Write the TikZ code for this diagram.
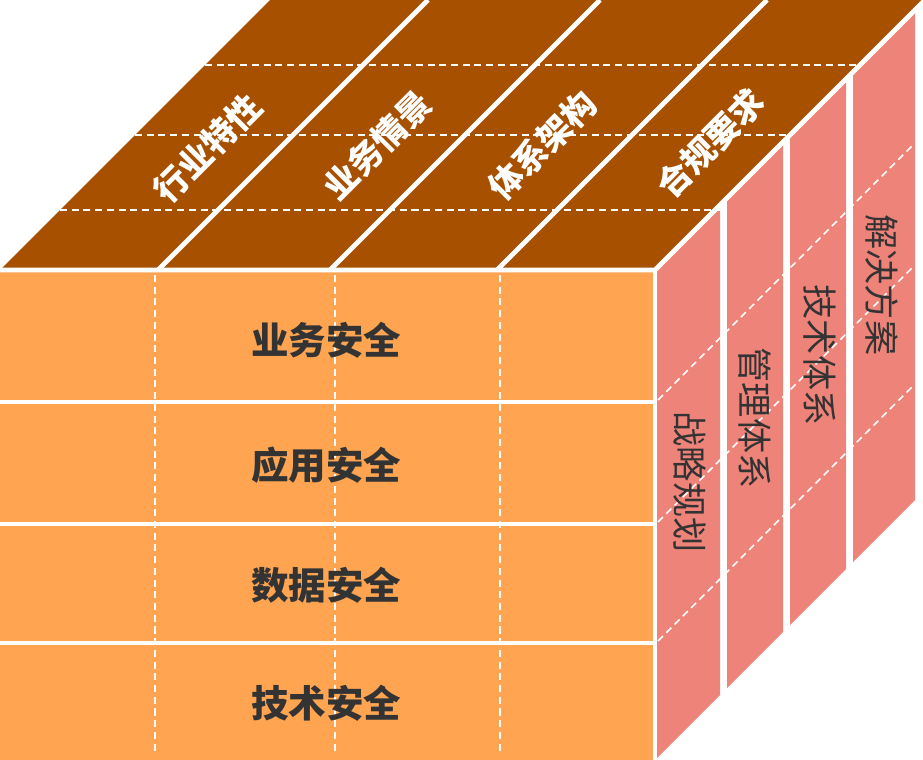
\documentclass[tikz,border=0pt]{standalone}
\usepackage{fontspec}
\newfontfamily\cjk{Noto Sans CJK SC}
\definecolor{topc}{HTML}{A65000}
\definecolor{frontc}{HTML}{FFA552}
\definecolor{sidec}{HTML}{EE837A}
\definecolor{txt}{HTML}{333333}
\begin{document}
\begin{tikzpicture}[x=0.03cm,y=-0.03cm,
  sep/.style={white,line width=4pt},
  wdash/.style={white,line width=1.3pt,dash pattern=on 6pt off 4pt},
  ftxt/.style={font=\cjk\bfseries\fontsize{32}{34}\selectfont,text=txt},
  ttxt/.style={font=\cjk\bfseries\fontsize{29}{31}\selectfont,text=white,rotate=45},
  stxt/.style={font=\cjk\fontsize{30}{32}\selectfont,text=txt,rotate=-90}]
\useasboundingbox (0,0) rectangle (923,760);
% top face
\fill[topc] (0,270) -- (270,0) -- (923,0) -- (655,270) -- cycle;
% front face
\fill[frontc] (0,270) rectangle (655,760);
% right strips
\foreach \a/\b in {655/720,727/783,790/846,853/915}{
  \fill[sidec] (\a,{270-(\a-655)}) -- (\b,{270-(\b-655)}) -- (\b,{760-(\b-655)}) -- (\a,{760-(\a-655)}) -- cycle;}
% top separators
\foreach \x in {158,330,497}{\draw[sep] (\x,270) -- (\x+270,0);}
\draw[sep] (0,270) -- (655,270) -- (925,0);
% top dashed
\draw[wdash] (205,65) -- (860,65);
\draw[wdash] (135,135) -- (790,135);
\draw[wdash] (60,210) -- (722,210);
% front rows
\foreach \y in {402,524,643}{\draw[sep] (0,\y) -- (655,\y);}
\draw[sep] (655,270) -- (655,760);
\foreach \x in {155,335,500}{\draw[wdash] (\x,275) -- (\x,752);}
% right dashed
\foreach \y in {400,522,641}{\draw[wdash] (658,\y) -- (912,\y-254);}
% labels
\node[ftxt] (f1) at (326,340) {业务安全};
\node[ftxt] (f2) at (326,465) {应用安全};
\node[ftxt] (f3) at (326,585) {数据安全};
\node[ftxt] (f4) at (326,703) {技术安全};
\node[ttxt] (t1) at (207,148) {行业特性};
\node[ttxt] (t2) at (377,145) {业务情景};
\node[ttxt] (t3) at (542,145) {体系架构};
\node[ttxt] (t4) at (710,143) {合规要求};
\node[stxt] (s1) at (690,482) {战略规划};
\node[stxt] (s2) at (755,418) {管理体系};
\node[stxt] (s3) at (820,355) {技术体系};
\node[stxt] (s4) at (882,285) {解决方案};
\end{tikzpicture}
\end{document}
